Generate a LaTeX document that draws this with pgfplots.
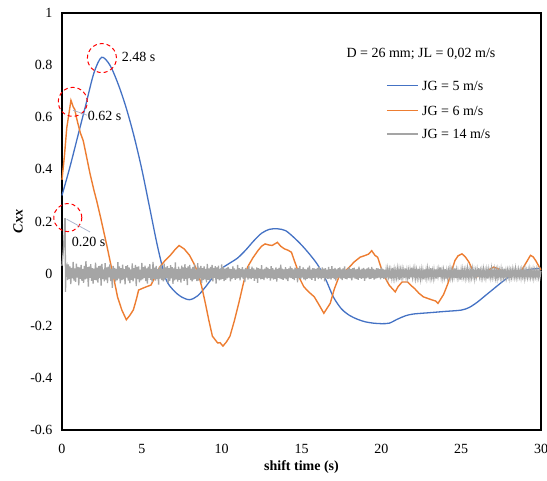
\documentclass[border=0pt]{standalone}
\usepackage{pgfplots}
\pgfplotsset{compat=1.18}
\usepackage{fontspec}
\setmainfont{Liberation Serif}
\usetikzlibrary{calc}
\definecolor{cblue}{HTML}{4472C4}
\definecolor{corange}{HTML}{ED7D31}
\definecolor{cgray}{HTML}{A5A5A5}
\definecolor{cleader}{RGB}{170,180,205}
\begin{document}
\begin{tikzpicture}[font=\fontsize{14bp}{16bp}\selectfont]
\begin{axis}[
  scale only axis, width=479bp, height=417bp,
  xmin=0, xmax=30, ymin=-0.6, ymax=1,
  xtick={0,5,10,15,20,25,30},
  xticklabels={0,5,10,15,20,25,30},
  ytick={-0.6,-0.4,-0.2,0,0.2,0.4,0.6,0.8,1},
  yticklabels={-0.6,-0.4,-0.2,0,0.2,0.4,0.6,0.8,1},
  /pgf/number format/assume math mode=true,
  major tick length=0pt,
  axis line style={line width=1.2bp, black},
  xticklabel style={anchor=center, yshift=-18.5bp},
  yticklabel style={anchor=east, xshift=-6bp},
  xlabel={\textbf{shift time (s)}},
  ylabel={\textbf{\textit{Cxx}}},
  xlabel style={at={(axis description cs:0.5,-0.0887)}, anchor=center},
  ylabel style={at={(axis description cs:-0.0919,0.5)}, anchor=center},
  clip=false,
]
\addplot[cblue, line width=1.3bp, smooth] coordinates {
(0,0.30)(0.5,0.41)(1.0,0.53)(1.5,0.65)(2.0,0.77)(2.48,0.83)(3.0,0.80)(3.5,0.73)(4.0,0.64)(4.5,0.53)
(5.0,0.40)(5.5,0.25)(6.0,0.10)(6.5,-0.02)(7.0,-0.065)(7.5,-0.09)(8.0,-0.10)(8.5,-0.085)(9.0,-0.05)(9.5,-0.01)
(10,0.02)(10.5,0.04)(11,0.06)(11.5,0.09)(12,0.125)(12.5,0.155)(13,0.17)(13.5,0.172)(14,0.165)(14.5,0.14)
(15,0.11)(15.5,0.075)(16,0.035)(16.5,-0.02)(17,-0.09)(17.5,-0.135)(18,-0.16)(18.5,-0.175)(19,-0.185)(19.5,-0.19)
(20,-0.192)(20.5,-0.19)(21,-0.175)(21.5,-0.162)(22,-0.155)(23,-0.15)(24,-0.145)(25,-0.14)(25.5,-0.13)(26,-0.11)
(26.5,-0.085)(27,-0.06)(27.5,-0.035)(28,-0.012)(28.5,0.004)(29,0.012)(29.5,0.018)(30,0.02)};
\addplot[corange, line width=1.4bp] coordinates {
(0,0.36)(0.15,0.45)(0.3,0.56)(0.45,0.62)(0.56,0.665)(0.62,0.655)(0.7,0.64)(0.8,0.63)(0.9,0.60)(1.0,0.575)
(1.15,0.54)(1.33,0.51)(1.5,0.46)(1.75,0.385)(2.0,0.32)(2.17,0.28)(2.4,0.22)(2.6,0.165)(2.8,0.11)(3.04,0.04)
(3.25,-0.02)(3.48,-0.09)(3.75,-0.14)(4.03,-0.177)(4.25,-0.16)(4.47,-0.139)(4.65,-0.10)(4.8,-0.063)(5.02,-0.057)(5.3,-0.05)
(5.57,-0.044)(5.85,-0.01)(6.12,0.025)(6.45,0.05)(6.78,0.07)(7.05,0.09)(7.33,0.108)(7.65,0.095)(7.99,0.07)(8.25,0.04)
(8.54,0)(8.75,-0.05)(8.98,-0.114)(9.2,-0.18)(9.42,-0.24)(9.75,-0.266)(9.9,-0.265)(10.08,-0.278)(10.3,-0.262)(10.52,-0.24)
(10.8,-0.18)(11.07,-0.114)(11.35,-0.04)(11.62,0.025)(11.95,0.06)(12.28,0.089)(12.5,0.105)(12.72,0.114)(12.95,0.11)(13.16,0.108)
(13.49,0.12)(13.7,0.105)(13.93,0.095)(14.15,0.09)(14.37,0.082)(14.55,0.05)(14.7,0.025)(14.9,-0.02)(15.14,-0.05)(15.45,-0.07)
(15.8,-0.089)(16.1,-0.12)(16.4,-0.152)(16.8,-0.114)(17.05,-0.06)(17.34,-0.013)(17.65,0.005)(18.0,0.025)(18.3,0.045)(18.67,0.063)
(19.0,0.07)(19.2,0.075)(19.4,0.088)(19.6,0.07)(19.77,0.063)(20.0,0.02)(20.21,-0.013)(20.5,-0.045)(20.87,-0.07)(21.05,-0.05)
(21.3,-0.032)(21.64,-0.032)(21.85,-0.045)(22.08,-0.057)(22.35,-0.075)(22.63,-0.089)(22.9,-0.095)(23.18,-0.101)(23.4,-0.105)(23.55,-0.114)
(23.9,-0.08)(24.17,-0.038)(24.4,0.01)(24.61,0.05)(24.8,0.068)(25.05,0.076)(25.25,0.065)(25.49,0.044)(25.7,0.015)(25.93,-0.013)
(26.2,-0.008)(26.48,0)(26.75,0.015)(27.03,0.025)(27.25,0.02)(27.47,0.013)(27.8,0.005)(28.13,0)(28.5,0.005)(28.79,0.013)
(29.05,0.04)(29.34,0.07)(29.5,0.065)(29.67,0.05)(29.85,0.03)(30,0.015)};
\addplot[cgray, line width=1.3bp] coordinates {
(0,0.03)(0.1,0.10)(0.18,0.21)(0.2,0.21)(0.22,-0.07)(0.25,0.02)
(0.30,0.030)(0.35,-0.025)(0.40,0.035)(0.45,-0.020)(0.50,0.028)(0.55,-0.040)(0.60,0.022)(0.65,-0.018)(0.70,0.045)(0.75,-0.027)
(0.80,0.020)(0.85,-0.032)(0.90,0.038)(0.95,-0.015)(1.00,0.026)(1.05,-0.045)(1.10,0.024)(1.15,-0.020)(1.20,0.033)(1.25,-0.028)
(1.30,0.018)(1.35,-0.035)(1.40,0.030)(1.45,-0.022)(1.50,0.048)(1.55,-0.019)(1.60,0.025)(1.65,-0.050)(1.70,0.027)(1.75,-0.016)
(1.80,0.036)(1.85,-0.028)(1.90,0.021)(1.95,-0.038)(2.00,0.019)(2.05,-0.024)(2.10,0.042)(2.15,-0.026)(2.20,0.023)(2.25,-0.034)
(2.30,0.029)(2.35,-0.017)(2.40,0.031)(2.45,-0.046)(2.50,0.037)(2.55,-0.021)(2.60,0.016)(2.65,-0.030)(2.70,0.040)(2.75,-0.023)
(2.80,0.024)(2.85,-0.036)(2.90,0.027)(2.95,-0.014)(3.00,0.035)(3.05,-0.029)(3.10,0.019)(3.15,-0.055)(3.20,0.030)(3.25,-0.020)
(3.30,0.022)(3.35,-0.031)(3.40,0.018)(3.45,-0.026)(3.50,0.044)(3.55,-0.019)(3.60,0.028)(3.65,-0.037)(3.70,0.021)(3.75,-0.025)
(3.80,0.034)(3.85,-0.022)(3.90,0.017)(3.95,-0.041)(4.00,0.029)(4.05,-0.015)(4.10,0.032)(4.15,-0.027)(4.20,0.024)(4.25,-0.036)
(4.30,0.016)(4.35,-0.024)(4.40,0.039)(4.45,-0.030)(4.50,0.021)(4.55,-0.018)(4.60,0.033)(4.65,-0.048)(4.70,0.026)(4.75,-0.021)
(4.80,0.028)(4.85,-0.033)(4.90,0.015)(4.95,-0.026)(5.00,0.041)(5.05,-0.022)(5.10,0.025)(5.15,-0.017)(5.20,0.031)(5.25,-0.029)
(5.30,0.020)(5.35,-0.038)(5.40,0.027)(5.45,-0.016)(5.50,0.036)(5.55,-0.024)(5.60,0.018)(5.65,-0.032)(5.70,0.045)(5.75,-0.020)
(5.80,0.023)(5.85,-0.027)(5.90,0.030)(5.95,-0.021)(6.00,0.017)(6.05,-0.042)(6.10,0.026)(6.15,-0.019)(6.20,0.034)(6.25,-0.025)
(6.30,0.019)(6.35,-0.030)(6.40,0.038)(6.45,-0.023)(6.50,0.024)(6.55,-0.016)(6.60,0.029)(6.65,-0.035)(6.70,0.021)(6.75,-0.028)
(6.80,0.032)(6.85,-0.018)(6.90,0.025)(6.95,-0.039)(7.00,0.020)(7.05,-0.026)(7.10,0.043)(7.15,-0.022)(7.20,0.017)(7.25,-0.031)
(7.30,0.027)(7.35,-0.024)(7.40,0.018)(7.45,-0.034)(7.50,0.031)(7.55,-0.019)(7.60,0.024)(7.65,-0.028)(7.70,0.036)(7.75,-0.021)
(7.80,0.022)(7.85,-0.044)(7.90,0.028)(7.95,-0.017)(8.00,0.033)(8.05,-0.025)(8.10,0.019)(8.15,-0.030)(8.20,0.026)(8.25,-0.023)
(8.30,0.035)(8.35,-0.020)(8.40,0.016)(8.45,-0.029)(8.50,0.040)(8.55,-0.027)(8.60,0.023)(8.65,-0.018)(8.70,0.030)(8.75,-0.036)
(8.80,0.021)(8.85,-0.025)(8.90,0.028)(8.95,-0.022)(9.00,0.018)(9.05,-0.033)(9.10,0.037)(9.15,-0.024)(9.20,0.020)(9.25,-0.027)
(9.30,0.026)(9.35,-0.019)(9.40,0.033)(9.45,-0.030)(9.50,0.022)(9.55,-0.016)(9.60,0.029)(9.65,-0.038)(9.70,0.024)(9.75,-0.021)
(9.80,0.031)(9.85,-0.026)(9.90,0.017)(9.95,-0.023)(10.00,0.035)(10.05,-0.020)(10.10,0.025)(10.15,-0.029)(10.20,0.019)(10.25,-0.024)
(10.30,0.022)(10.35,-0.018)(10.40,0.026)(10.45,-0.015)(10.50,0.019)(10.55,-0.030)(10.60,0.017)(10.65,-0.021)(10.70,0.028)(10.75,-0.016)
(10.80,0.020)(10.85,-0.024)(10.90,0.015)(10.95,-0.019)(11.00,0.033)(11.05,-0.017)(11.10,0.021)(11.15,-0.026)(11.20,0.018)(11.25,-0.014)
(11.30,0.025)(11.35,-0.020)(11.40,0.016)(11.45,-0.032)(11.50,0.022)(11.55,-0.015)(11.60,0.019)(11.65,-0.023)(11.70,0.030)(11.75,-0.018)
(11.80,0.017)(11.85,-0.021)(11.90,0.027)(11.95,-0.016)(12.00,0.020)(12.05,-0.028)(12.10,0.015)(12.15,-0.019)(12.20,0.024)(12.25,-0.035)
(12.30,0.021)(12.35,-0.017)(12.40,0.018)(12.45,-0.022)(12.50,0.032)(12.55,-0.020)(12.60,0.016)(12.65,-0.025)(12.70,0.019)(12.75,-0.015)
(12.80,0.026)(12.85,-0.019)(12.90,0.022)(12.95,-0.016)(13.00,0.017)(13.05,-0.027)(13.10,0.029)(13.15,-0.018)(13.20,0.021)(13.25,-0.023)
(13.30,0.015)(13.35,-0.020)(13.40,0.024)(13.45,-0.031)(13.50,0.018)(13.55,-0.016)(13.60,0.022)(13.65,-0.019)(13.70,0.034)(13.75,-0.021)
(13.80,0.019)(13.85,-0.024)(13.90,0.016)(13.95,-0.018)(14.00,0.025)(14.05,-0.022)(14.10,0.017)(14.15,-0.029)(14.20,0.020)(14.25,-0.015)
(14.30,0.028)(14.35,-0.017)(14.40,0.021)(14.45,-0.020)(14.50,0.016)(14.55,-0.025)(14.60,0.023)(14.65,-0.016)(14.70,0.019)(14.75,-0.033)
(14.80,0.022)(14.85,-0.018)(14.90,0.030)(14.95,-0.021)(15.00,0.017)(15.05,-0.015)(15.10,0.024)(15.15,-0.022)(15.20,0.018)(15.25,-0.026)
(15.30,0.016)(15.35,-0.020)(15.40,0.023)(15.45,-0.017)(15.50,0.031)(15.55,-0.019)(15.60,0.015)(15.65,-0.024)(15.70,0.021)(15.75,-0.016)
(15.80,0.020)(15.85,-0.028)(15.90,0.018)(15.95,-0.015)(16.00,0.022)(16.05,-0.021)(16.10,0.027)(16.15,-0.017)(16.20,0.016)(16.25,-0.022)
(16.30,0.024)(16.35,-0.016)(16.40,0.019)(16.45,-0.030)(16.50,0.021)(16.55,-0.018)(16.60,0.015)(16.65,-0.020)(16.70,0.026)(16.75,-0.019)
(16.80,0.017)(16.85,-0.023)(16.90,0.029)(16.95,-0.016)(17.00,0.018)(17.05,-0.021)(17.10,0.022)(17.15,-0.027)(17.20,0.016)(17.25,-0.018)
(17.30,0.021)(17.35,-0.015)(17.40,0.024)(17.45,-0.019)(17.50,0.016)(17.55,-0.025)(17.60,0.020)(17.65,-0.017)(17.70,0.028)(17.75,-0.020)
(17.80,0.015)(17.85,-0.022)(17.90,0.019)(17.95,-0.016)(18.00,0.025)(18.05,-0.018)(18.10,0.017)(18.15,-0.026)(18.20,0.021)(18.25,-0.015)
(18.30,0.023)(18.35,-0.019)(18.40,0.016)(18.45,-0.021)(18.50,0.018)(18.55,-0.024)(18.60,0.027)(18.65,-0.016)(18.70,0.015)(18.75,-0.020)
(18.80,0.019)(18.85,-0.017)(18.90,0.022)(18.95,-0.028)(19.00,0.016)(19.05,-0.018)(19.10,0.020)(19.15,-0.015)(19.20,0.024)(19.25,-0.021)
(19.30,0.017)(19.35,-0.020)(19.40,0.026)(19.45,-0.016)(19.50,0.018)(19.55,-0.023)(19.60,0.015)(19.65,-0.019)(19.70,0.021)(19.75,-0.017)
(19.80,0.020)(19.85,-0.015)(19.90,0.017)(19.95,-0.022)(20.00,0.024)(20.05,-0.016)(20.10,0.018)(20.15,-0.020)(20.20,0.015)(20.25,-0.018)
(20.30,0.014)(20.35,-0.012)(20.40,0.017)(20.45,-0.010)(20.50,0.013)(20.55,-0.019)(20.60,0.011)(20.65,-0.014)(20.70,0.022)(20.75,-0.012)
(20.80,0.015)(20.85,-0.016)(20.90,0.010)(20.95,-0.013)(21.00,0.018)(21.05,-0.011)(21.10,0.014)(21.15,-0.024)(21.20,0.012)(21.25,-0.010)
(21.30,0.016)(21.35,-0.013)(21.40,0.011)(21.45,-0.017)(21.50,0.020)(21.55,-0.012)(21.60,0.013)(21.65,-0.015)(21.70,0.010)(21.75,-0.021)
(21.80,0.012)(21.85,-0.014)(21.90,0.023)(21.95,-0.011)(22.00,0.015)(22.05,-0.010)(22.10,0.017)(22.15,-0.016)(22.20,0.012)(22.25,-0.013)
(22.30,0.019)(22.35,-0.012)(22.40,0.010)(22.45,-0.018)(22.50,0.014)(22.55,-0.013)(22.60,0.011)(22.65,-0.022)(22.70,0.016)(22.75,-0.011)
(22.80,0.013)(22.85,-0.015)(22.90,0.018)(22.95,-0.010)(23.00,0.012)(23.05,-0.014)(23.10,0.021)(23.15,-0.012)(23.20,0.010)(23.25,-0.016)
(23.30,0.014)(23.35,-0.011)(23.40,0.016)(23.45,-0.019)(23.50,0.012)(23.55,-0.010)(23.60,0.015)(23.65,-0.013)(23.70,0.024)(23.75,-0.012)
(23.80,0.011)(23.85,-0.016)(23.90,0.013)(23.95,-0.012)(24.00,0.017)(24.05,-0.020)(24.10,0.010)(24.15,-0.014)(24.20,0.012)(24.25,-0.011)
(24.30,0.018)(24.35,-0.013)(24.40,0.011)(24.45,-0.015)(24.50,0.014)(24.55,-0.010)(24.60,0.020)(24.65,-0.017)(24.70,0.012)(24.75,-0.014)
(24.80,0.010)(24.85,-0.012)(24.90,0.015)(24.95,-0.023)(25.00,0.013)(25.05,-0.011)(25.10,0.016)(25.15,-0.010)(25.20,0.012)(25.25,-0.015)
(25.30,0.014)(25.35,-0.010)(25.40,0.019)(25.45,-0.013)(25.50,0.011)(25.55,-0.016)(25.60,0.012)(25.65,-0.012)(25.70,0.017)(25.75,-0.010)
(25.80,0.012)(25.85,-0.018)(25.90,0.010)(25.95,-0.011)(26.00,0.015)(26.05,-0.013)(26.10,0.021)(26.15,-0.010)(26.20,0.011)(26.25,-0.014)
(26.30,0.013)(26.35,-0.012)(26.40,0.016)(26.45,-0.010)(26.50,0.011)(26.55,-0.015)(26.60,0.012)(26.65,-0.019)(26.70,0.014)(26.75,-0.010)
(26.80,0.010)(26.85,-0.013)(26.90,0.018)(26.95,-0.011)(27.00,0.012)(27.05,-0.010)(27.10,0.015)(27.15,-0.014)(27.20,0.011)(27.25,-0.017)
(27.30,0.014)(27.35,-0.010)(27.40,0.011)(27.45,-0.012)(27.50,0.016)(27.55,-0.015)(27.60,0.010)(27.65,-0.011)(27.70,0.019)(27.75,-0.012)
(27.80,0.011)(27.85,-0.014)(27.90,0.012)(27.95,-0.010)(28.00,0.013)(28.05,-0.016)(28.10,0.010)(28.15,-0.012)(28.20,0.015)(28.25,-0.010)
(28.30,0.012)(28.35,-0.011)(28.40,0.017)(28.45,-0.013)(28.50,0.010)(28.55,-0.012)(28.60,0.014)(28.65,-0.010)(28.70,0.011)(28.75,-0.015)
(28.80,0.013)(28.85,-0.010)(28.90,0.011)(28.95,-0.016)(29.00,0.015)(29.05,-0.011)(29.10,0.010)(29.15,-0.013)(29.20,0.012)(29.25,-0.010)
(29.30,0.016)(29.35,-0.012)(29.40,0.010)(29.45,-0.011)(29.50,0.014)(29.55,-0.015)(29.60,0.011)(29.65,-0.010)(29.70,0.013)(29.75,-0.012)
(29.80,0.010)(29.85,-0.013)(29.90,0.012)(29.95,-0.010)(30.00,0.011)};
\coordinate (c1) at (axis cs:2.50,0.827);
\coordinate (c2) at (axis cs:0.676,0.659);
\coordinate (c3) at (axis cs:0.363,0.215);
\coordinate (l1a) at (axis cs:0.69,0.627);
\coordinate (l1b) at (axis cs:1.57,0.608);
\coordinate (l2a) at (axis cs:0.29,0.209);
\coordinate (l2b) at (axis cs:1.75,0.16);
\coordinate (t1) at (axis cs:3.74,0.831);
\coordinate (t2) at (axis cs:1.61,0.604);
\coordinate (t3) at (axis cs:0.61,0.12);
\coordinate (t4) at (axis cs:22.48,0.842);
\coordinate (g1a) at (axis cs:20.35,0.7206);
\coordinate (g1b) at (axis cs:22.29,0.7206);
\coordinate (g1t) at (axis cs:22.54,0.7206);
\coordinate (g2a) at (axis cs:20.35,0.6247);
\coordinate (g2b) at (axis cs:22.29,0.6247);
\coordinate (g2t) at (axis cs:22.54,0.6247);
\coordinate (g3a) at (axis cs:20.35,0.5353);
\coordinate (g3b) at (axis cs:22.29,0.5353);
\coordinate (g3t) at (axis cs:22.54,0.5353);
\coordinate (bl) at (axis cs:0,-0.6);
\coordinate (tr) at (axis cs:30,1);
\end{axis}
\draw[red, dash pattern=on 4bp off 3bp, line width=1bp] (c1) circle[radius=14.5bp];
\draw[red, dash pattern=on 4bp off 3bp, line width=1bp] (c2) circle[radius=14.5bp];
\draw[red, dash pattern=on 4bp off 3bp, line width=1bp] (c3) circle[radius=14bp];
\draw[cleader, line width=0.8bp] (l1a) -- (l1b);
\draw[cleader, line width=0.8bp] (l2a) -- (l2b);
\node[anchor=west, inner sep=0pt] at (t1) {2.48 s};
\node[anchor=west, inner sep=0pt] at (t2) {0.62 s};
\node[anchor=west, inner sep=0pt] at (t3) {0.20 s};
\node[anchor=center, inner sep=0pt] at (t4) {D = 26 mm; JL = 0,02 m/s};
% legend
\draw[cblue, line width=1.3bp] (g1a) -- (g1b);
\draw[corange, line width=1.3bp] (g2a) -- (g2b);
\draw[cgray, line width=1.3bp] (g3a) -- (g3b);
\node[anchor=west, inner sep=0pt] at (g1t) {JG = 5 m/s};
\node[anchor=west, inner sep=0pt] at (g2t) {JG = 6 m/s};
\node[anchor=west, inner sep=0pt] at (g3t) {JG = 14 m/s};
\pgfresetboundingbox
\path[use as bounding box] ($(bl)+(-62bp,-51bp)$) rectangle ($(tr)+(6bp,13bp)$);
\end{tikzpicture}
\end{document}
